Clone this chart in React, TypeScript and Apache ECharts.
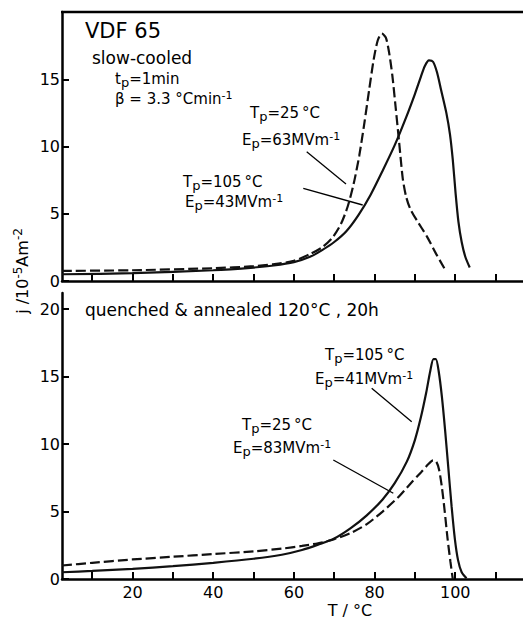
import React, { useEffect, useRef } from "react";
import * as echarts from "echarts";

const FONT = "DejaVu Sans";

// x ticks / labels
const xTicks = [10, 20, 30, 40, 50, 60, 70, 80, 90, 100, 110];
const xLabels = [20, 40, 60, 80, 100];
const yTopTicks = [0, 5, 10, 15];
const yBotTicks = [0, 5, 10, 15, 20];

// Top panel: slow-cooled
const topSolidT = [2.5, 20, 40, 50, 55, 60, 64, 67, 70, 73, 76, 79, 82, 85, 88, 90, 91.5, 92.5, 93.5, 94.5, 95.5, 96.5, 97.8, 98.7, 99.4, 100.1, 100.8, 101.6, 102.5, 103.6];
const topSolidJ = [0.5, 0.58, 0.8, 1.0, 1.15, 1.4, 1.8, 2.3, 2.9, 3.7, 4.9, 6.4, 8.2, 10.1, 12.3, 13.9, 15.2, 16.0, 16.4, 16.3, 15.5, 14.2, 12.5, 10.9, 9.0, 6.5, 4.4, 2.9, 1.8, 1.0];
const topDashT = [2.5, 20, 40, 50, 55, 60, 64, 67, 69.5, 71.6, 73.3, 74.8, 76.2, 77.5, 78.7, 79.8, 80.8, 81.8, 82.8, 83.6, 84.4, 85.2, 86.1, 87, 87.8, 88.8, 90.5, 93, 95.3, 97.3];
const topDashJ = [0.75, 0.8, 0.95, 1.1, 1.25, 1.5, 2.0, 2.5, 3.2, 4.2, 5.5, 7.2, 9.3, 11.8, 14.3, 16.5, 17.9, 18.4, 18.1, 17.0, 15.3, 13.0, 10.3, 7.6, 6.3, 5.4, 4.5, 3.3, 2.0, 0.95];

// Bottom panel: quenched & annealed
const botSolidT = [2.5, 10, 20, 30, 40, 50, 57, 62, 66, 70, 74, 78, 82, 85, 88, 90, 91.5, 92.8, 93.8, 94.6, 95.2, 95.9, 96.7, 97.5, 98.3, 99.1, 99.9, 100.7, 101.6, 102.8];
const botSolidJ = [0.5, 0.6, 0.75, 0.95, 1.2, 1.5, 1.8, 2.15, 2.55, 3.0, 3.75, 4.7, 5.9, 7.1, 8.7, 10.3, 12.0, 13.8, 15.4, 16.3, 16.3, 15.4, 13.5, 11.0, 8.2, 5.4, 3.0, 1.4, 0.5, 0.05];
const botDashT = [2.5, 10, 20, 30, 40, 50, 57, 62, 66, 70, 74, 78, 82, 86, 89, 91.5, 93.3, 94.5, 95.3, 96, 96.7, 97.4, 98.1, 98.8, 99.4];
const botDashJ = [1.0, 1.2, 1.45, 1.65, 1.85, 2.05, 2.25, 2.45, 2.65, 2.95, 3.4, 4.05, 5.0, 6.1, 7.1, 7.9, 8.5, 8.8, 8.7, 8.1, 6.8, 5.0, 3.0, 1.3, 0];

const zip = (a: number[], b: number[]) => a.map((v, i) => [v, b[i]]);

const rich = {
  n: { fontSize: 15, lineHeight: 20, fontFamily: FONT, fill: "#000" },
  s: { fontSize: 13, lineHeight: 14, padding: [6, 0, 0, 0], fontFamily: FONT, fill: "#000" },
  u: { fontSize: 11, lineHeight: 12, padding: [0, 0, 8, 0], fontFamily: FONT, fill: "#000" },
};

function rt(text: string, left: number, baseline: number) {
  return {
    type: "text",
    x: left,
    y: baseline - 15,
    style: { text, rich, verticalAlign: "top", textAlign: "left", fill: "#000" },
  };
}

function plain(text: string, x: number, y: number, size: number, align = "left") {
  return {
    type: "text",
    x,
    y,
    style: { text, fontSize: size, fontFamily: FONT, fill: "#000", textAlign: align, verticalAlign: "middle" },
  };
}

function leader(x1: number, y1: number, x2: number, y2: number, w = 1.3) {
  return { type: "line", shape: { x1, y1, x2, y2 }, style: { stroke: "#000", lineWidth: w } };
}

const GRID_W = 463;
const X_MIN = 2.5;
const X_MAX = X_MIN + GRID_W / 4.033;

function xAxis(gi: number) {
  return {
    type: "value",
    gridIndex: gi,
    min: X_MIN,
    max: X_MAX,
    axisLine: { show: true, onZero: false, lineStyle: { color: "#000", width: 2.5 } },
    axisTick: { show: true, inside: true, length: 7, customValues: xTicks, lineStyle: { color: "#000", width: 2 } },
    axisLabel: { show: gi === 1, customValues: xLabels, margin: 5, fontSize: 16, fontFamily: FONT, color: "#000" },
    splitLine: { show: false },
  };
}

function yAxis(gi: number, max: number, ticks: number[]) {
  return {
    type: "value",
    gridIndex: gi,
    min: 0,
    max,
    axisLine: { show: true, onZero: false, lineStyle: { color: "#000", width: 2.5 } },
    axisTick: { show: true, inside: true, length: 7, customValues: ticks, lineStyle: { color: "#000", width: 2 } },
    axisLabel: { show: true, customValues: ticks, margin: 2, fontSize: 16, fontFamily: FONT, color: "#000" },
    splitLine: { show: false },
  };
}

function line(gi: number, data: number[][], dashed: boolean) {
  return {
    type: "line",
    xAxisIndex: gi,
    yAxisIndex: gi,
    data,
    showSymbol: false,
    smooth: 0.25,
    lineStyle: { color: "#111", width: 2.2, type: dashed ? [10, 4] : "solid" },
  };
}

export default function App() {
  const ref = useRef<HTMLDivElement>(null);
  useEffect(() => {
    if (!ref.current) return;
    document.documentElement.style.overflow = "hidden";
    document.body.style.overflow = "hidden";
    document.body.style.margin = "0";
    const chart = echarts.init(ref.current, null, { renderer: "svg" });
    chart.setOption({
      animation: false,
      backgroundColor: "#fff",
      grid: [
        { left: 62, top: 12, width: GRID_W, height: 269, outerBoundsMode: "none" },
        { left: 62, top: 293, width: GRID_W, height: 286, outerBoundsMode: "none" },
      ],
      xAxis: [xAxis(0), xAxis(1)],
      yAxis: [yAxis(0, 20, yTopTicks), yAxis(1, 21.2, yBotTicks)],
      series: [
        line(0, zip(topSolidT, topSolidJ), false),
        line(0, zip(topDashT, topDashJ), true),
        line(1, zip(botSolidT, botSolidJ), false),
        line(1, zip(botDashT, botDashJ), true),
      ],
      graphic: [
        leader(61, 12, 523, 12, 2.5),
        plain("VDF 65", 85, 30.7, 21),
        plain("slow-cooled", 92, 57.5, 17),
        rt("{n|t}{s|p}{n|=1min}", 115, 84),
        rt("{n|β = 3.3 °Cmin}{u|-1}", 115, 104),
        rt("{n|T}{s|p}{n|=25\u2009°C}", 250, 118),
        rt("{n|E}{s|p}{n|=63MVm}{u|-1}", 242, 145),
        rt("{n|T}{s|p}{n|=105\u2009°C}", 183, 187),
        rt("{n|E}{s|p}{n|=43MVm}{u|-1}", 185, 207),
        leader(306.7, 151.7, 346, 184),
        leader(303.3, 188.3, 362.7, 205),
        plain("quenched & annealed 120°C , 20h", 85, 310, 17),
        rt("{n|T}{s|p}{n|=105\u2009°C}", 325, 360),
        rt("{n|E}{s|p}{n|=41MVm}{u|-1}", 315, 384),
        leader(371.7, 388.3, 411.7, 421.7),
        rt("{n|T}{s|p}{n|=25\u2009°C}", 242, 430),
        rt("{n|E}{s|p}{n|=83MVm}{u|-1}", 233, 453),
        leader(333.3, 460, 393.3, 493.3),
        plain("T / °C", 350, 610, 16, "center"),
        {
          type: "text",
          x: 22,
          y: 271,
          rotation: Math.PI / 2,
          style: {
            text: "{n|j /10}{u|-5}{n|Am}{u|-2}",
            rich: {
              n: { fontSize: 16, lineHeight: 20, fontFamily: FONT, fill: "#000" },
              u: { fontSize: 12, lineHeight: 12, padding: [0, 0, 8, 0], fontFamily: FONT, fill: "#000" },
            },
            textAlign: "center",
            verticalAlign: "middle",
          },
        },
      ],
    });
    return () => chart.dispose();
  }, []);
  return (
    <div
      ref={ref}
      style={{ position: "absolute", left: 0, top: 0, width: 523, height: 621, overflow: "hidden", background: "#fff" }}
    />
  );
}
